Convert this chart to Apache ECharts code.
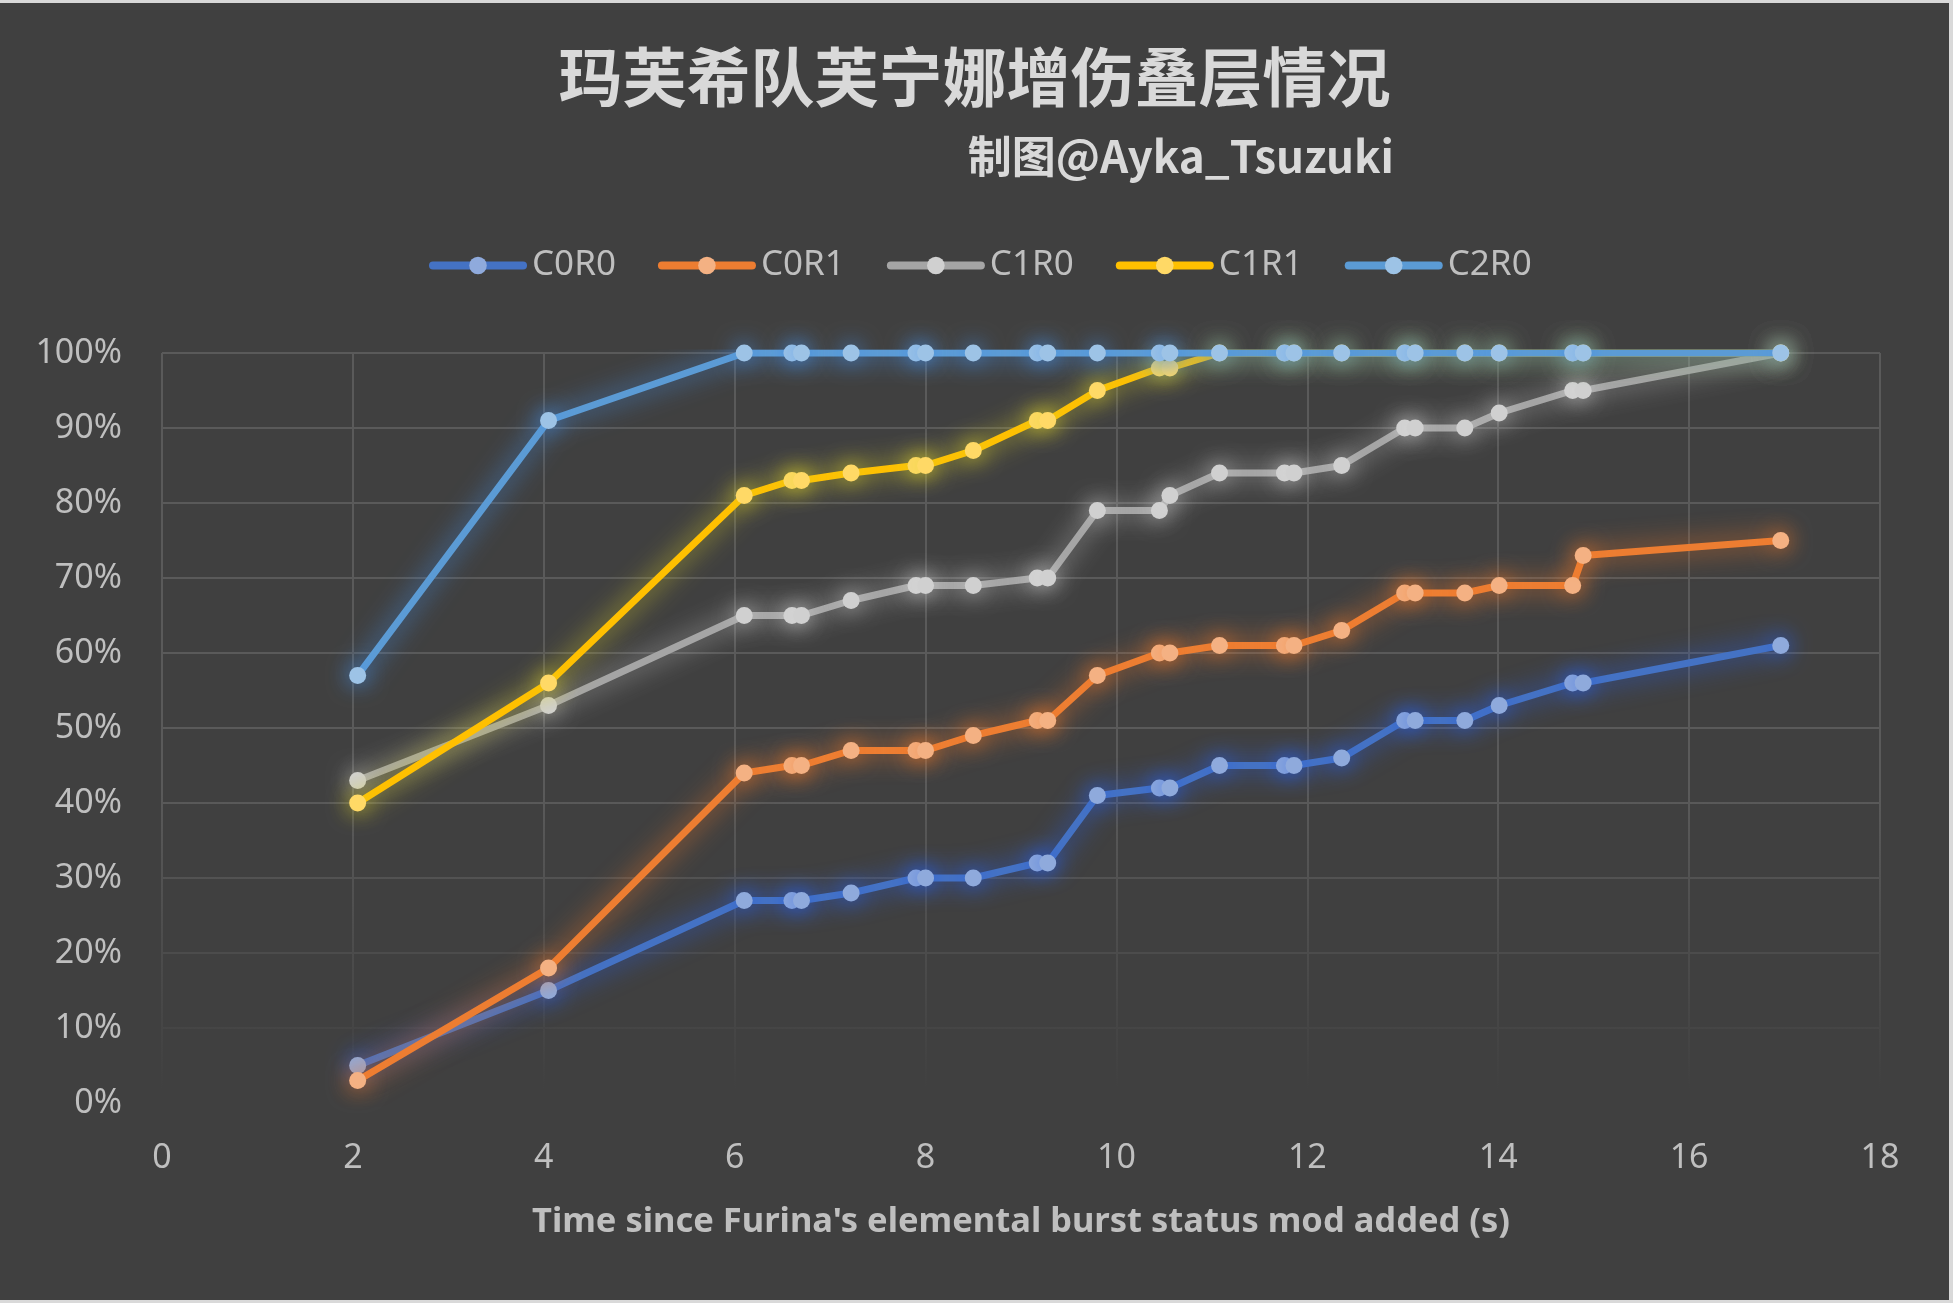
<!DOCTYPE html>
<html>
<head>
<meta charset="utf-8">
<script src="https://cdn.jsdelivr.net/npm/echarts@6/dist/echarts.min.js"></script>
<style>
  html, body { margin: 0; padding: 0; background: #d9d9d9; }
  #chart { position: absolute; left: 0; top: 3px; width: 1949px; height: 1297px; background: #404040; }
</style>
</head>
<body>
<div id="chart"></div>
<script>
// Time (s) since Furina's elemental burst status mod added
const times = [2.05, 4.05, 6.1, 6.6, 6.7, 7.22, 7.9, 8.0, 8.5, 9.17, 9.28, 9.8, 10.45, 10.56, 11.08, 11.76, 11.86, 12.36, 13.02, 13.13, 13.65, 14.01, 14.78, 14.89, 16.96];

const seriesNames = ['C0R0', 'C0R1', 'C1R0', 'C1R1', 'C2R0'];

// stack percentage (%)
const c0r0 = [5, 15, 27, 27, 27, 28, 30, 30, 30, 32, 32, 41, 42, 42, 45, 45, 45, 46, 51, 51, 51, 53, 56, 56, 61];
const c0r1 = [3, 18, 44, 45, 45, 47, 47, 47, 49, 51, 51, 57, 60, 60, 61, 61, 61, 63, 68, 68, 68, 69, 69, 73, 75];
const c1r0 = [43, 53, 65, 65, 65, 67, 69, 69, 69, 70, 70, 79, 79, 81, 84, 84, 84, 85, 90, 90, 90, 92, 95, 95, 100];
const c1r1 = [40, 56, 81, 83, 83, 84, 85, 85, 87, 91, 91, 95, 98, 98, 100, 100, 100, 100, 100, 100, 100, 100, 100, 100, 100];
const c2r0 = [57, 91, 100, 100, 100, 100, 100, 100, 100, 100, 100, 100, 100, 100, 100, 100, 100, 100, 100, 100, 100, 100, 100, 100, 100];

const xTicks = [0, 2, 4, 6, 8, 10, 12, 14, 16, 18];
const yTicks = [0, 10, 20, 30, 40, 50, 60, 70, 80, 90, 100];

const allValues = [c0r0, c0r1, c1r0, c1r1, c2r0];
const lineColors = ['#4472C4', '#ED7D31', '#A5A5A5', '#FFC000', '#5B9BD5'];
const markerColors = ['#8FAADC', '#F4B183', '#D0D0D0', '#FFD966', '#9DC3E6'];
const glowColors = ['rgba(40,95,230,1)', 'rgba(240,120,40,0.95)', 'rgba(225,225,225,0.7)', 'rgba(220,210,40,0.95)', 'rgba(70,145,235,0.95)'];

const chart = echarts.init(document.getElementById('chart'));

const series = seriesNames.map((name, i) => ({
  name: name,
  type: 'line',
  data: times.map((t, j) => [t, allValues[i][j]]),
  symbol: 'circle',
  symbolSize: 17,
  z: 2 + i,
  lineStyle: {
    color: lineColors[i],
    width: 7,
    join: 'round',
    shadowBlur: 26,
    shadowColor: glowColors[i]
  },
  itemStyle: {
    color: markerColors[i],
    borderWidth: 0,
    shadowBlur: 22,
    shadowColor: glowColors[i]
  },
  emphasis: { disabled: true },
  animation: false
}));

const option = {
  backgroundColor: '#404040',
  animation: false,
  title: [
    {
      text: '玛芙希队芙宁娜增伤叠层情况',
      left: 'center',
      top: 37,
      textStyle: { color: '#D9D9D9', fontSize: 64, fontWeight: 'bold', fontFamily: 'Noto Sans CJK SC' }
    },
    {
      text: '制图@Ayka_Tsuzuki',
      right: 550,
      top: 126,
      textStyle: { color: '#D9D9D9', fontSize: 44, fontWeight: 'bold', fontFamily: 'Noto Sans CJK SC' }
    }
  ],
  legend: {
    data: seriesNames,
    left: 424,
    top: 240,
    itemWidth: 90,
    itemHeight: 22,
    itemGap: 42,
    textStyle: { color: '#BFBFBF', fontSize: 35, fontFamily: 'Noto Sans', padding: [0, 0, 0, 4] },
    lineStyle: { width: 8, cap: 'round', shadowBlur: 0 },
    itemStyle: { shadowBlur: 0 }
  },
  grid: { left: 162, right: 69, top: 350, height: 750 },
  xAxis: {
    type: 'value',
    min: xTicks[0],
    max: xTicks[xTicks.length - 1],
    interval: 2,
    name: "Time since Furina's elemental burst status mod added (s)",
    nameLocation: 'middle',
    nameGap: 102,
    nameTextStyle: { color: '#BFBFBF', fontSize: 34.5, fontWeight: 'bold', fontFamily: 'Noto Sans' },
    axisLine: { show: false },
    axisTick: { show: false },
    axisLabel: { color: '#BFBFBF', fontSize: 34, margin: 38, fontFamily: 'Noto Sans' },
    splitLine: { show: true, lineStyle: { color: '#5A5A5A', width: 2 } }
  },
  yAxis: {
    type: 'value',
    min: yTicks[0],
    max: yTicks[yTicks.length - 1],
    interval: 10,
    axisLine: { show: false },
    axisTick: { show: false },
    axisLabel: { color: '#BFBFBF', fontSize: 34, margin: 40, fontFamily: 'Noto Sans', formatter: '{value}%' },
    splitLine: { show: true, lineStyle: { color: '#5A5A5A', width: 2 } }
  },
  graphic: [
    {
      type: 'rect',
      z: 1,
      silent: true,
      shape: { x: 140, y: 790, width: 1760, height: 330 },
      style: {
        fill: {
          type: 'linear', x: 0, y: 0, x2: 0, y2: 1,
          colorStops: [
            { offset: 0, color: 'rgba(64,64,64,0)' },
            { offset: 0.9, color: 'rgba(64,64,64,1)' },
            { offset: 1, color: 'rgba(64,64,64,1)' }
          ]
        }
      }
    }
  ],
  series: series
};

chart.setOption(option);
</script>
</body>
</html>
